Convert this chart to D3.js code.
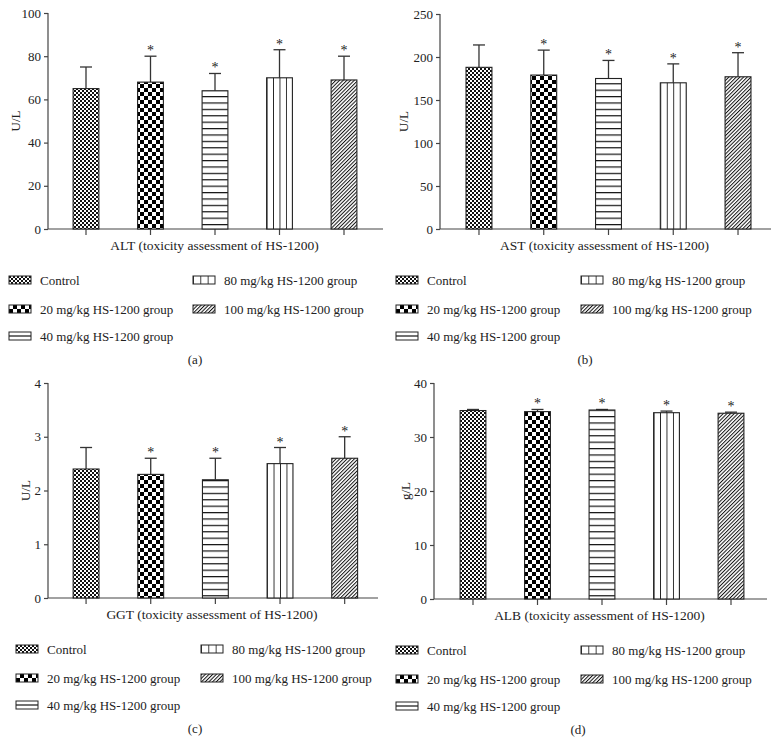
<!DOCTYPE html>
<html>
<head>
<meta charset="utf-8">
<script src="https://cdn.jsdelivr.net/npm/d3@7"></script>
<style>
  html, body { margin: 0; padding: 0; background: #fff; }
  svg { display: block; font-family: "Liberation Serif", "DejaVu Serif", serif; }
  .axis path, .axis line { stroke: #444; stroke-width: 1.2; }
  .axis text { font-size: 13px; fill: #222; font-family: "Liberation Serif", serif; }
</style>
</head>
<body>
<svg id="chart" width="780" height="756"></svg>
<script>
// groups and their fill patterns
const groups = ["Control", "20 mg/kg HS-1200 group", "40 mg/kg HS-1200 group", "80 mg/kg HS-1200 group", "100 mg/kg HS-1200 group"];
const patternIds = ["fine", "check", "hlines", "vlines", "diag"];

// values (mean and SD)
const altMean = [65, 68, 64, 70, 69];
const altSd = [10, 12, 8, 13, 11];
const astMean = [188, 179, 175, 170, 177];
const astSd = [26, 29, 21, 22, 28];
const ggtMean = [2.4, 2.3, 2.2, 2.5, 2.6];
const ggtSd = [0.4, 0.3, 0.4, 0.3, 0.4];
const albMean = [34.9, 34.7, 35.0, 34.5, 34.4];
const albSd = [0.2, 0.4, 0.1, 0.3, 0.2];
const starred = [false, true, true, true, true];

const altTicks = [0, 20, 40, 60, 80, 100];
const astTicks = [0, 50, 100, 150, 200, 250];
const ggtTicks = [0, 1, 2, 3, 4];
const albTicks = [0, 10, 20, 30, 40];

const panels = [
  { tag: "(a)", mean: altMean, sd: altSd, ticks: altTicks, title: "ALT (toxicity assessment of HS-1200)", yLabel: "U/L",
    axisX: 48, axisEnd: 383, top: 13, zero: 229, band: [53.75, 376.25], yLabelX: 15, legendX: [9, 193], tagX: 195 },
  { tag: "(b)", mean: astMean, sd: astSd, ticks: astTicks, title: "AST (toxicity assessment of HS-1200)", yLabel: "U/L",
    axisX: 440, axisEnd: 771, top: 14, zero: 229, band: [446.6, 770.4], yLabelX: 403, legendX: [396, 581], tagX: 585 },
  { tag: "(c)", mean: ggtMean, sd: ggtSd, ticks: ggtTicks, title: "GGT (toxicity assessment of HS-1200)", yLabel: "U/L",
    axisX: 48, axisEnd: 378, top: 383, zero: 598, band: [53.75, 377], yLabelX: 25, legendX: [16, 201], tagX: 195 },
  { tag: "(d)", mean: albMean, sd: albSd, ticks: albTicks, title: "ALB (toxicity assessment of HS-1200)", yLabel: "g/L",
    axisX: 434, axisEnd: 767, top: 383, zero: 599, band: [440.75, 763.25], yLabelX: 405, legendX: [396, 581], tagX: 578 },
];

const svg = d3.select("#chart");
const defs = svg.append("defs");

function makePatterns() {
  // fine checker (control)
  const fine = defs.append("pattern").attr("id", "fine").attr("patternUnits", "userSpaceOnUse").attr("width", 4).attr("height", 4);
  fine.append("rect").attr("width", 4).attr("height", 4).attr("fill", "#fff");
  fine.append("rect").attr("width", 2).attr("height", 2).attr("fill", "#111");
  fine.append("rect").attr("x", 2).attr("y", 2).attr("width", 2).attr("height", 2).attr("fill", "#111");

  // coarse checker
  const check = defs.append("pattern").attr("id", "check").attr("patternUnits", "userSpaceOnUse").attr("width", 8).attr("height", 8);
  check.append("rect").attr("width", 8).attr("height", 8).attr("fill", "#fff");
  check.append("rect").attr("width", 4).attr("height", 4).attr("fill", "#000");
  check.append("rect").attr("x", 4).attr("y", 4).attr("width", 4).attr("height", 4).attr("fill", "#000");

  // horizontal lines
  const h = defs.append("pattern").attr("id", "hlines").attr("patternUnits", "userSpaceOnUse").attr("width", 10).attr("height", 6.4);
  h.append("rect").attr("width", 10).attr("height", 6.4).attr("fill", "#fff");
  h.append("line").attr("x1", 0).attr("x2", 10).attr("y1", 0.6).attr("y2", 0.6).attr("stroke", "#111").attr("stroke-width", 1.2);

  // vertical lines, aligned to each bar
  const v = defs.append("pattern").attr("id", "vlines").attr("patternUnits", "objectBoundingBox").attr("width", 0.25).attr("height", 1);
  v.append("rect").attr("width", 20).attr("height", 400).attr("fill", "#fff");
  v.append("line").attr("x1", 0.2).attr("x2", 0.2).attr("y1", 0).attr("y2", 400).attr("stroke", "#111").attr("stroke-width", 1.3);

  // diagonal hatch
  const dg = defs.append("pattern").attr("id", "diag").attr("patternUnits", "userSpaceOnUse").attr("width", 2.6).attr("height", 6)
    .attr("patternTransform", "rotate(45)");
  dg.append("rect").attr("width", 2.6).attr("height", 6).attr("fill", "#fff");
  dg.append("line").attr("x1", 0.5).attr("x2", 0.5).attr("y1", 0).attr("y2", 6).attr("stroke", "#111").attr("stroke-width", 1);

  // legend variants
  const lh = defs.append("pattern").attr("id", "leg-hlines").attr("patternUnits", "objectBoundingBox").attr("width", 1).attr("height", 1);
  lh.append("rect").attr("width", 22).attr("height", 8).attr("fill", "#fff");
  lh.append("line").attr("x1", 0).attr("x2", 22).attr("y1", 4).attr("y2", 4).attr("stroke", "#111").attr("stroke-width", 1.2);
  const lv = defs.append("pattern").attr("id", "leg-vlines").attr("patternUnits", "objectBoundingBox").attr("width", 1 / 3).attr("height", 1);
  lv.append("rect").attr("width", 10).attr("height", 10).attr("fill", "#fff");
  lv.append("line").attr("x1", 0.2).attr("x2", 0.2).attr("y1", 0).attr("y2", 10).attr("stroke", "#111").attr("stroke-width", 1.2);
}

makePatterns();

function drawPanel(p) {
  const g = svg.append("g");
  const x = d3.scaleBand().domain(groups).range(p.band).paddingInner(0.6).paddingOuter(0.3);
  const y = d3.scaleLinear().domain([0, d3.max(p.ticks)]).range([p.zero, p.top]);

  // y axis
  g.append("g").attr("class", "axis").attr("transform", `translate(${p.axisX},0)`)
    .call(d3.axisLeft(y).tickValues(p.ticks).tickFormat(d3.format("d")).tickSize(4).tickPadding(3).tickSizeOuter(0))
    .call((a) => a.select(".domain").attr("d", `M0,${p.top}V${p.zero}`));

  // x axis line with ticks under each bar
  const xa = g.append("g").attr("class", "axis");
  xa.append("line").attr("x1", p.axisX).attr("x2", p.axisEnd).attr("y1", p.zero).attr("y2", p.zero);
  xa.selectAll(".xt").data(groups).join("line").attr("class", "xt")
    .attr("x1", (d) => x(d) + x.bandwidth() / 2).attr("x2", (d) => x(d) + x.bandwidth() / 2)
    .attr("y1", p.zero).attr("y2", p.zero + 6);

  const rows = groups.map((name, i) => ({ name, mean: p.mean[i], sd: p.sd[i], pat: patternIds[i], star: starred[i] }));

  // error bars
  const eb = g.append("g").attr("stroke", "#333").attr("stroke-width", 1.3);
  eb.selectAll(".ev").data(rows).join("line")
    .attr("x1", (d) => x(d.name) + x.bandwidth() / 2).attr("x2", (d) => x(d.name) + x.bandwidth() / 2)
    .attr("y1", (d) => y(d.mean)).attr("y2", (d) => y(d.mean + d.sd));
  eb.selectAll(".cap").data(rows).join("line")
    .attr("x1", (d) => x(d.name) + x.bandwidth() / 2 - 6).attr("x2", (d) => x(d.name) + x.bandwidth() / 2 + 6)
    .attr("y1", (d) => y(d.mean + d.sd)).attr("y2", (d) => y(d.mean + d.sd));

  // bars
  g.append("g").selectAll("rect").data(rows).join("rect")
    .attr("x", (d) => x(d.name)).attr("width", x.bandwidth())
    .attr("y", (d) => y(d.mean)).attr("height", (d) => y(0) - y(d.mean))
    .attr("fill", (d) => `url(#${d.pat})`).attr("stroke", "#222").attr("stroke-width", 1.1);

  // stars
  g.append("g").selectAll("text").data(rows.filter((d) => d.star)).join("text")
    .attr("x", (d) => x(d.name) + x.bandwidth() / 2).attr("y", (d) => y(d.mean + d.sd) - 1)
    .attr("text-anchor", "middle").attr("font-size", 14).attr("fill", "#222").text("*");

  // y label
  g.append("text").attr("transform", `translate(${p.yLabelX},${(p.top + p.zero) / 2}) rotate(-90)`)
    .attr("text-anchor", "middle").attr("dy", "0.35em").attr("font-size", 13).attr("fill", "#222").text(p.yLabel);

  // x title
  g.append("text").attr("x", (p.axisX + p.axisEnd) / 2 - 1).attr("y", p.zero + 21)
    .attr("text-anchor", "middle").attr("font-size", 13.5).attr("fill", "#222").text(p.title);

  // legend
  const legendPos = [[0, 51], [0, 80], [0, 107], [1, 51], [1, 80]];
  const lg = g.append("g").selectAll("g").data(rows).join("g")
    .attr("transform", (d, i) => `translate(${p.legendX[legendPos[i][0]]},${p.zero + legendPos[i][1]})`);
  lg.append("rect").attr("x", 0).attr("y", -4).attr("width", 22).attr("height", 8)
    .attr("fill", (d) => d.pat === "hlines" ? "url(#leg-hlines)" : d.pat === "vlines" ? "url(#leg-vlines)" : `url(#${d.pat})`)
    .attr("stroke", "#222").attr("stroke-width", 1);
  lg.append("text").attr("x", 31).attr("dy", "0.35em").attr("font-size", 13).attr("fill", "#222").text((d) => d.name);

  // panel tag
  g.append("text").attr("x", p.tagX).attr("y", p.zero + 130).attr("dy", "0.35em")
    .attr("text-anchor", "middle").attr("font-size", 13).attr("fill", "#222").text(p.tag);
}

panels.forEach(drawPanel);
</script>
</body>
</html>
